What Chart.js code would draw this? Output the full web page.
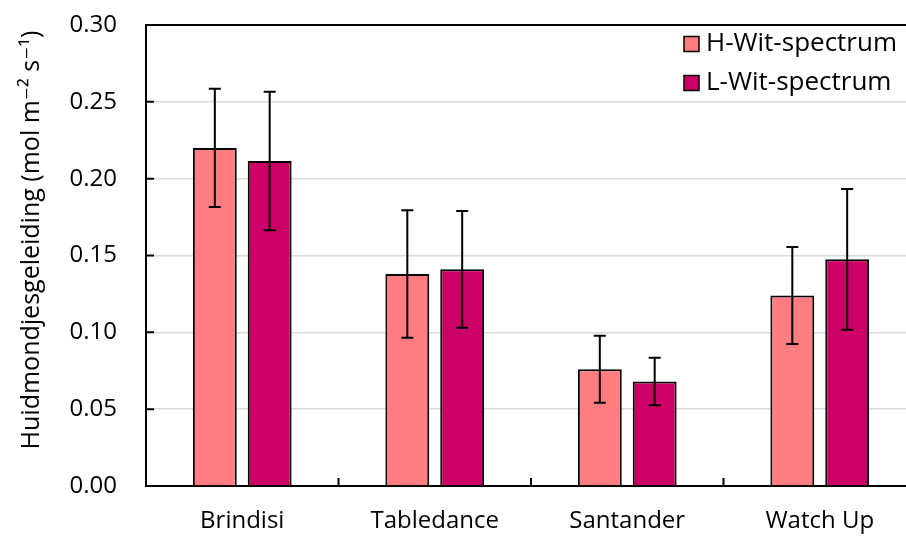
<!DOCTYPE html>
<html>
<head>
<meta charset="utf-8">
<script src="https://cdn.jsdelivr.net/npm/chart.js@4"></script>
<style>
  html, body { margin: 0; padding: 0; background: #fff; overflow: hidden; }
  #wrap { width: 920px; height: 538px; }
</style>
</head>
<body>
<div id="wrap"><canvas id="c" width="920" height="538"></canvas></div>
<script>
// Stomatal conductance per cultivar under two white spectra (mean ± error)
const categories = ['Brindisi', 'Tabledance', 'Santander', 'Watch Up'];
const seriesNames = ['H-Wit-spectrum', 'L-Wit-spectrum'];
const hValues = [0.220, 0.138, 0.076, 0.124];
const hErrors = [0.0385, 0.0415, 0.0218, 0.0316];
const lValues = [0.2115, 0.141, 0.068, 0.1475];
const lErrors = [0.045, 0.038, 0.0155, 0.0458];
const yMin = 0, yMax = 0.30, yStep = 0.05;
const yTitle = 'Huidmondjesgeleiding (mol m\u207B\u00B2 s\u207B\u00B9)';

const FONT = '"Open Sans", "DejaVu Sans", sans-serif';
const colors = ['#FF7C80', '#CC0066'];

// Whiskers drawn from each bar's own value and error
const errorBars = {
  id: 'errorBars',
  afterDatasetsDraw(chart) {
    const ctx = chart.ctx;
    const y = chart.scales.y;
    ctx.save();
    ctx.strokeStyle = '#000';
    ctx.lineWidth = 2;
    chart.data.datasets.forEach((ds, di) => {
      const meta = chart.getDatasetMeta(di);
      meta.data.forEach((bar, i) => {
        const v = ds.data[i], e = ds.errors[i];
        const yt = y.getPixelForValue(v + e);
        const yb = y.getPixelForValue(v - e);
        const x = bar.x;
        ctx.beginPath();
        ctx.moveTo(x, yt); ctx.lineTo(x, yb);
        ctx.moveTo(x - 6, yt); ctx.lineTo(x + 6, yt);
        ctx.moveTo(x - 6, yb); ctx.lineTo(x + 6, yb);
        ctx.stroke();
      });
    });
    ctx.restore();
  }
};

// Frame top line, inward tick marks, axis title and legend
const decorations = {
  id: 'decorations',
  afterDraw(chart) {
    const ctx = chart.ctx;
    const a = chart.chartArea;
    const xs = chart.scales.x, ys = chart.scales.y;
    ctx.save();
    ctx.strokeStyle = '#000';
    ctx.lineWidth = 2;
    ctx.beginPath();
    ctx.moveTo(a.left - 1, a.top); ctx.lineTo(a.right, a.top);
    // y ticks pointing into the plot
    ys.ticks.forEach(t => {
      const py = ys.getPixelForValue(t.value);
      ctx.moveTo(a.left, py); ctx.lineTo(a.left + 8, py);
    });
    // category separators on the x axis
    for (let i = 0; i < categories.length - 1; i++) {
      const px = (xs.getPixelForValue(i) + xs.getPixelForValue(i + 1)) / 2;
      ctx.moveTo(px, a.bottom); ctx.lineTo(px, a.bottom - 8);
    }
    ctx.stroke();

    // rotated y-axis title
    ctx.fillStyle = '#000';
    ctx.font = '25px ' + FONT;
    ctx.textAlign = 'center';
    ctx.textBaseline = 'middle';
    ctx.translate(32, 240);
    ctx.rotate(-Math.PI / 2);
    ctx.fillText(yTitle, 0, 0);
    ctx.restore();

    // legend, top right inside the plot
    ctx.save();
    ctx.font = '26px ' + FONT;
    ctx.textBaseline = 'middle';
    ctx.textAlign = 'left';
    const widths = chart.data.datasets.map(d => ctx.measureText(d.label).width);
    const maxW = Math.max(...widths);
    const textX = 897 - maxW;
    chart.data.datasets.forEach((d, i) => {
      const cy = 44 + i * 39;
      ctx.fillStyle = d.backgroundColor;
      ctx.fillRect(textX - 22, cy - 7.5, 15, 15);
      ctx.strokeStyle = '#000';
      ctx.lineWidth = 1.5;
      ctx.strokeRect(textX - 22, cy - 7.5, 15, 15);
      ctx.fillStyle = '#000';
      ctx.fillText(d.label, textX, cy);
    });
    ctx.restore();
  }
};

new Chart(document.getElementById('c'), {
  type: 'bar',
  data: {
    labels: categories,
    datasets: [
      { label: seriesNames[0], data: hValues, errors: hErrors,
        backgroundColor: colors[0], borderColor: '#000', borderWidth: 2 },
      { label: seriesNames[1], data: lValues, errors: lErrors,
        backgroundColor: colors[1], borderColor: '#000', borderWidth: 2 }
    ]
  },
  options: {
    responsive: false,
    animation: false,
    devicePixelRatio: 1,
    layout: { padding: { top: 25, right: 4, left: 0, bottom: 0 } },
    datasets: { bar: { categoryPercentage: 0.57, barPercentage: 0.8 } },
    plugins: { legend: { display: false }, tooltip: { enabled: false } },
    scales: {
      x: {
        afterFit(s) { s.height = 52; s.paddingLeft = 0; s.paddingRight = 0; },
        grid: { display: false, drawTicks: false },
        border: { display: true, color: '#000', width: 2 },
        ticks: { color: '#000', font: { family: FONT, size: 24 }, padding: 21 }
      },
      y: {
        min: yMin, max: yMax,
        afterFit(s) { s.width = 146; s.paddingTop = 0; s.paddingBottom = 0; },
        grid: {
          drawTicks: false,
          color: c => (c.tick && (c.tick.value === yMin || Math.abs(c.tick.value - yMax) < 1e-9)) ? 'rgba(0,0,0,0)' : '#d9d9d9',
          lineWidth: 1.5
        },
        border: { display: true, color: '#000', width: 2 },
        ticks: {
          stepSize: yStep, color: '#000', padding: 29,
          font: { family: FONT, size: 24 },
          callback: v => v.toFixed(2)
        }
      }
    }
  },
  plugins: [errorBars, decorations]
});
</script>
</body>
</html>
